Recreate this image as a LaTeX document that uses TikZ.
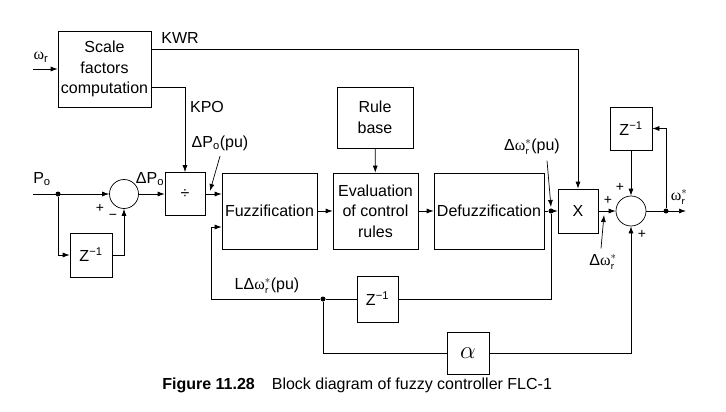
\documentclass[tikz,border=0pt]{standalone}
\usepackage{fontspec}
\usetikzlibrary{arrows.meta}
\setmainfont{Liberation Sans}
\newfontfamily\grk{Liberation Serif}
\newcommand{\omstar}{{\grk ω}$^{*}_{\mathsf{r}}$}
\newcommand{\omin}{{\grk ω}\textsubscript{r}}
\newcommand{\zinv}{Z\textsuperscript{−1}}
\begin{document}
\begin{tikzpicture}[x=1pt,y=-1pt,>={Latex[length=7pt,width=5pt]},
    font=\fontsize{16}{20.5}\selectfont,
    line width=0.7pt,
    blk/.style={draw,align=center,inner sep=0pt},
    sumc/.style={draw,circle,minimum size=29pt,inner sep=0pt},
    jdot/.style={circle,fill,inner sep=0pt,minimum size=5pt},
    sgn/.style={font=\fontsize{14}{14}\selectfont,inner sep=0pt}]
        \useasboundingbox (0,0) rectangle (726,412);
        % blocks
        \node[blk,minimum width=93pt,minimum height=76pt] (scale) at (104.5,69) {Scale\\factors\\computation};
        \node[blk,minimum width=40pt,minimum height=43pt] (div) at (185,194) {÷};
        \node[sumc] (sum1) at (124,194) {};
        \node[blk,minimum width=42pt,minimum height=44pt] (z1) at (91,255) {\zinv};
        \node[blk,minimum width=95pt,minimum height=76pt] (fuzz) at (269.5,211) {Fuzzification};
        \node[blk,minimum width=85pt,minimum height=76pt] (eval) at (375.5,211) {Evaluation\\of control\\rules};
        \node[blk,minimum width=76pt,minimum height=61pt] (rule) at (375,117.5) {Rule\\base};
        \node[blk,minimum width=110pt,minimum height=76pt] (defuzz) at (489,211) {Defuzzification};
        \node[blk,minimum width=40pt,minimum height=44pt] (mult) at (578,211) {X};
        \node[sumc,minimum size=30pt] (sum2) at (631,211) {};
        \node[blk,minimum width=42pt,minimum height=43pt] (z2) at (631,128.5) {\zinv};
        \node[blk,minimum width=41pt,minimum height=46pt] (z3) at (377.5,299) {\zinv};
        \node[blk,minimum width=42pt,minimum height=42pt] (alpha) at (468,353) {\fontsize{24}{24}\selectfont$\alpha$};
        % junctions
        \node[jdot] (d1) at (58,194) {};
        \node[jdot] (d2) at (551,211) {};
        \node[jdot] (d3) at (666,211) {};
        \node[jdot] (d4) at (323,299) {};
        \coordinate (win) at (33,69);
        \coordinate (pin) at (33,194);
        \coordinate (wout) at (686,211);
        \coordinate (fb) at (211,299);
        \coordinate (tip1) at (210,191);
        \coordinate (tip2) at (551,207);
        \coordinate (tip3) at (604,215);
        % connectors
        \draw[->] (win) -- (scale);
        \draw[->] ([yshift=-19pt]scale.north east) -| (mult.north);
        \draw[->] ([yshift=20pt]scale.south east) -| (div.north);
        \draw[->] (pin) -- (sum1.west);
        \draw[->] (d1) |- (z1.west);
        \draw[->] (z1.east) -| (sum1.south);
        \draw[->] (sum1) -- (div);
        \draw[->] (div.east) -- (fuzz.west |- div.east);
        \draw[->] (fuzz) -- (eval);
        \draw[->] (eval) -- (defuzz);
        \draw[->] (rule) -- (eval);
        \draw (defuzz.east) -- (d2);
        \draw[->] (d2) -- (mult.west);
        \draw[->] (mult) -- (sum2);
        \draw[->] (sum2.east) -- (wout);
        \draw[->] (d3) |- (z2.east);
        \draw[->] (z2) -- (sum2);
        \draw (d2) |- (z3.east);
        \draw (z3.west) -- (d4) -- (fb);
        \draw[->] (fb) |- ([yshift=-16pt]fuzz.west);
        \draw (d4) |- (alpha.west);
        \draw[->] (alpha.east) -| (sum2.south);
        % labels
        \node (lwr) at (41,57) {\omin};
        \node (lkwr) at (180,38) {KWR};
        \node (lkpo) at (207,107) {KPO};
        \node (ldpopu) at (220,143) {ΔP\textsubscript{o}(pu)};
        \node (lpo) at (42,179) {P\textsubscript{o}};
        \node (ldpo) at (150,179) {ΔP\textsubscript{o}};
        \node[sgn] at (100,208) {+};
        \node[sgn] at (113,217) {−};
        \node (ldwpu) at (532,147) {Δ\omstar(pu)};
        \node (ldw) at (603,262) {Δ\omstar};
        \node[sgn] at (608,200) {+};
        \node[sgn] at (620,187) {+};
        \node[sgn] at (642,234) {+};
        \node (lwout) at (679,197) {\omstar};
        \node (lldw) at (267,286) {LΔ\omstar(pu)};
        \draw[->] ([yshift=-2pt]ldpopu.south) -- (tip1);
        \draw[->] ([xshift=15pt,yshift=-2pt]ldwpu.south) -- (tip2);
        \draw[->] ([xshift=-2pt,yshift=2pt]ldw.north) -- (tip3);
        % caption
        \node[anchor=west,inner sep=0pt] (cap) at (162,385) {\textbf{Figure 11.28}\hspace{17pt}Block diagram of fuzzy controller FLC-1};
\end{tikzpicture}
\end{document}
